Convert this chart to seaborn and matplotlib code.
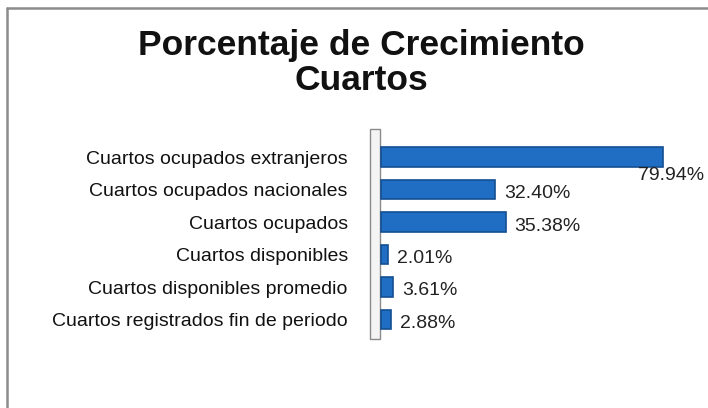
import matplotlib
matplotlib.use("Agg")
import matplotlib.pyplot as plt
import seaborn as sns
from matplotlib.lines import Line2D

# datos del gráfico
categorias = [
    "Cuartos ocupados extranjeros",
    "Cuartos ocupados nacionales",
    "Cuartos ocupados",
    "Cuartos disponibles",
    "Cuartos disponibles promedio",
    "Cuartos registrados fin de periodo",
]
porcentajes = [79.94, 32.40, 35.38, 2.01, 3.61, 2.88]
etiquetas = ["79.94%", "32.40%", "35.38%", "2.01%", "3.61%", "2.88%"]

sns.set_theme(style="white")
plt.rcParams["font.family"] = ["Liberation Sans", "DejaVu Sans"]

fig = plt.figure(figsize=(7.08, 4.08), dpi=100)
fig.patch.set_facecolor("white")
ax = fig.add_axes([370 / 708, 1 - 339 / 408, 332 / 708, 198 / 408])

sns.barplot(x=porcentajes, y=categorias, orient="h", color="#1f6ec4",
            edgecolor="#154f92", linewidth=1.2, width=0.6, ax=ax, saturation=1)

ax.set_xlim(-3, 91)
ax.set_ylim(5.6, -0.5)

# pared lateral (efecto 3D)
ax.axvspan(-3, -0.3, ymin=0.0, ymax=1.06, facecolor="#f4f4f4",
           edgecolor="#8a8a8a", linewidth=1.0, clip_on=False, zorder=0)

# etiquetas de valor
lim = ax.get_xlim()[1]
for i, (v, t) in enumerate(zip(porcentajes, etiquetas)):
    if v + 20 > lim:
        # no cabe a la derecha: se pone debajo del final de la barra
        ax.text(lim + 0.5, i + 0.55, t, va="center", ha="right",
                fontsize=14, color="#222222", clip_on=False)
    else:
        ax.text(v + 2.5, i + 0.12, t, va="center", ha="left", fontsize=14,
                color="#222222")

ax.set_xlabel("")
ax.set_ylabel("")
ax.set_xticks([])
ax.tick_params(axis="y", length=0, pad=16, labelsize=14, labelcolor="#111111")
for s in ax.spines.values():
    s.set_visible(False)

fig.text(0.51, 1 - 45 / 408, "Porcentaje de Crecimiento", ha="center",
         va="center", fontsize=25.5, fontweight="bold", color="#111111")
fig.text(0.51, 1 - 81 / 408, "Cuartos", ha="center", va="center",
         fontsize=25.5, fontweight="bold", color="#111111")

# marco exterior
fig.add_artist(Line2D([7 / 708, 7 / 708], [0, 1 - 8 / 408],
                      transform=fig.transFigure, color="#8c8c8c", linewidth=1.8))
fig.add_artist(Line2D([7 / 708, 1], [1 - 8 / 408, 1 - 8 / 408],
                      transform=fig.transFigure, color="#8c8c8c", linewidth=1.8))

fig.savefig("out.png", dpi=100)
